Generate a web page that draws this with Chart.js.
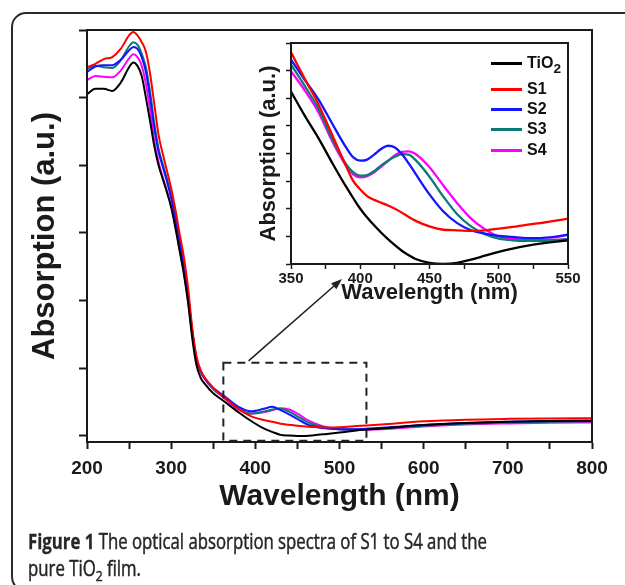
<!DOCTYPE html>
<html>
<head>
<meta charset="utf-8">
<script src="https://cdn.jsdelivr.net/npm/chart.js@4.4.1/dist/chart.umd.min.js"></script>
<style>
  html, body { margin: 0; padding: 0; background: #fff; }
  body { width: 625px; height: 585px; position: relative; overflow: hidden; }
  canvas { position: absolute; left: 0; top: 0; }
  .frame { position: absolute; left: 11px; top: 12px; width: 720px; height: 576px;
           border: 2px solid #2a2a2a; border-radius: 15px; }
  .legend { position: absolute; font: bold 16px "Liberation Sans", Arial, sans-serif; color: #111; }
  .legend .ln { position: absolute; left: 491px; width: 31px; height: 3px; }
  .legend .tx { position: absolute; left: 527px; line-height: 18px; white-space: nowrap; }
  .legend sub { font-size: 0.85em; vertical-align: -0.35em; line-height: 0; }
  .cap { position: absolute; left: 28px; font: 400 21px "Open Sans", sans-serif; color: #262626;
         -webkit-text-stroke: 0.5px #262626;
         line-height: 21px; white-space: nowrap; transform-origin: 0 50%; }
  .cap b { font-weight: 700; -webkit-text-stroke: 0.3px #262626; }
  .cap sub { font-size: 0.72em; vertical-align: -0.3em; line-height: 0; }
</style>
</head>
<body>
<div class="frame"></div>
<canvas id="mainChart" width="625" height="585"></canvas>
<canvas id="insetChart" width="625" height="585"></canvas>
<div class="legend" id="legend"></div>
<div class="cap" id="cap1" style="top:531px"><b>Figure 1</b> The optical absorption spectra of S1 to S4 and the</div>
<div class="cap" id="cap2" style="top:558px">pure TiO<sub>2</sub> film.</div>

<script>
// ---- main spectrum (200-800 nm) ----
const mainWavelengths = [200, 210, 220, 230, 240, 250, 255, 260, 265, 270,
  275, 280, 285, 290, 295, 300, 305, 310, 315, 320,
  325, 330, 335, 340, 350, 362, 380, 395, 410, 420,
  430, 440, 450, 460, 470, 485, 500, 520, 550, 600,
  650, 700, 750, 800];
const mainTiO2 = [5.05, 5.13, 5.13, 5.10, 5.22, 5.45, 5.52, 5.47, 5.32, 5.00,
  4.65, 4.28, 4.00, 3.80, 3.60, 3.38, 3.08, 2.74, 2.40, 1.98,
  1.45, 1.05, 0.86, 0.77, 0.63, 0.52, 0.35, 0.22, 0.11, 0.06,
  0.015, 0.005, 0.0, 0.0, 0.01, 0.03, 0.05, 0.08, 0.11, 0.16,
  0.19, 0.21, 0.22, 0.225];
const mainS1 = [5.45, 5.50, 5.57, 5.60, 5.72, 5.92, 5.97, 5.92, 5.82, 5.68,
  5.35, 4.90, 4.45, 4.17, 3.92, 3.66, 3.35, 2.99, 2.65, 2.20,
  1.60, 1.18, 0.97, 0.86, 0.71, 0.58, 0.40, 0.29, 0.235, 0.21,
  0.18, 0.165, 0.15, 0.14, 0.13, 0.125, 0.128, 0.145, 0.17, 0.215,
  0.24, 0.252, 0.258, 0.26];
const mainS2 = [5.38, 5.46, 5.48, 5.48, 5.56, 5.70, 5.75, 5.72, 5.60, 5.38,
  5.00, 4.55, 4.20, 3.98, 3.76, 3.52, 3.22, 2.87, 2.52, 2.08,
  1.55, 1.15, 0.96, 0.85, 0.71, 0.60, 0.43, 0.365, 0.40, 0.43,
  0.38, 0.32, 0.25, 0.18, 0.14, 0.11, 0.10, 0.10, 0.12, 0.16,
  0.19, 0.21, 0.22, 0.225];
const mainS3 = [5.42, 5.47, 5.45, 5.44, 5.55, 5.76, 5.82, 5.78, 5.65, 5.45,
  5.08, 4.62, 4.25, 4.02, 3.80, 3.55, 3.25, 2.90, 2.55, 2.10,
  1.55, 1.15, 0.96, 0.85, 0.70, 0.58, 0.40, 0.33, 0.36, 0.39,
  0.40, 0.36, 0.29, 0.22, 0.165, 0.12, 0.10, 0.095, 0.11, 0.15,
  0.18, 0.20, 0.21, 0.215];
const mainS4 = [5.26, 5.32, 5.31, 5.30, 5.40, 5.58, 5.64, 5.60, 5.47, 5.20,
  4.82, 4.35, 4.05, 3.82, 3.62, 3.40, 3.10, 2.76, 2.42, 2.00,
  1.50, 1.12, 0.94, 0.84, 0.69, 0.57, 0.39, 0.33, 0.35, 0.38,
  0.41, 0.39, 0.33, 0.25, 0.19, 0.13, 0.10, 0.09, 0.10, 0.14,
  0.17, 0.185, 0.195, 0.20];
const mainXTicks = [200, 250, 300, 350, 400, 450, 500, 550, 600, 650, 700, 750, 800];
const mainYTicks = [0, 1, 2, 3, 4, 5, 6];

// ---- inset (350-550 nm) ----
const insetWavelengths = [350, 360, 370, 380, 390, 395, 400, 405, 410, 415,
  420, 425, 430, 435, 440, 450, 460, 470, 480, 490,
  500, 510, 520, 530, 540, 550];
const insetTiO2 = [3.12, 2.68, 2.27, 1.82, 1.39, 1.19, 1.00, 0.84, 0.70, 0.57,
  0.45, 0.34, 0.24, 0.16, 0.09, 0.02, 0.0, 0.02, 0.08, 0.15,
  0.22, 0.28, 0.33, 0.37, 0.40, 0.43];
const insetS1 = [3.83, 3.35, 2.88, 2.32, 1.76, 1.50, 1.35, 1.23, 1.16, 1.11,
  1.06, 1.00, 0.93, 0.85, 0.78, 0.68, 0.62, 0.61, 0.60, 0.61,
  0.64, 0.67, 0.71, 0.74, 0.78, 0.82];
const insetS2 = [3.70, 3.33, 2.97, 2.53, 2.10, 1.93, 1.87, 1.89, 1.98, 2.08,
  2.14, 2.11, 1.99, 1.82, 1.63, 1.26, 0.95, 0.74, 0.61, 0.55,
  0.51, 0.49, 0.47, 0.47, 0.49, 0.53];
const insetS3 = [3.61, 3.22, 2.80, 2.25, 1.80, 1.66, 1.60, 1.61, 1.68, 1.78,
  1.87, 1.94, 1.99, 1.98, 1.88, 1.58, 1.22, 0.90, 0.68, 0.54,
  0.46, 0.43, 0.42, 0.42, 0.43, 0.45];
const insetS4 = [3.49, 3.14, 2.74, 2.21, 1.77, 1.62, 1.57, 1.59, 1.66, 1.76,
  1.86, 1.97, 2.03, 2.04, 1.99, 1.75, 1.42, 1.10, 0.82, 0.63,
  0.50, 0.46, 0.44, 0.44, 0.44, 0.45];
const insetXTicks = [350, 375, 400, 425, 450, 475, 500, 525, 550];
const insetYTicks = [0, 0.5, 1, 1.5, 2, 2.5, 3, 3.5, 4];

const seriesNames = ["TiO2", "S1", "S2", "S3", "S4"];
const seriesColors = ["#000000", "#ff0000", "#1414ff", "#0b7a76", "#ff00ff"];

const FONT = '"Liberation Sans", Arial, sans-serif';
const INK = "#1a1a1a";

const toPoints = (xs, ys) => xs.map((x, i) => ({ x: x, y: ys[i] }));

const makeDatasets = (xs, lists, width) =>
  lists.map((ys, i) => ({
    label: seriesNames[i],
    data: toPoints(xs, ys),
    borderColor: seriesColors[i],
    borderWidth: width,
    pointRadius: 0,
    fill: false,
    cubicInterpolationMode: "monotone",
  }));

// box around the plotting area
const frameBox = {
  id: "frameBox",
  afterDraw(chart) {
    const { ctx, chartArea: a } = chart;
    ctx.save();
    ctx.strokeStyle = INK;
    ctx.lineWidth = 2;
    ctx.strokeRect(a.left, a.top, a.right - a.left, a.bottom - a.top);
    ctx.restore();
  },
};

// dashed zoom region + arrow pointing at the inset
const zoomMark = {
  id: "zoomMark",
  afterDatasetsDraw(chart) {
    const { ctx, scales } = chart;
    const x1 = scales.x.getPixelForValue(362);
    const x2 = scales.x.getPixelForValue(532);
    const y1 = scales.y.getPixelForValue(1.08);
    const y2 = scales.y.getPixelForValue(-0.07);
    ctx.save();
    ctx.strokeStyle = "#222";
    ctx.lineWidth = 2;
    ctx.setLineDash([8, 6]);
    ctx.strokeRect(x1, y1, x2 - x1, y2 - y1);
    ctx.setLineDash([]);
    // arrow
    const sx = scales.x.getPixelForValue(392), sy = y1 - 2;
    const ex = 342, ey = 279;
    const ang = Math.atan2(ey - sy, ex - sx);
    ctx.lineWidth = 1.6;
    ctx.beginPath();
    ctx.moveTo(sx, sy);
    ctx.lineTo(ex - 8 * Math.cos(ang), ey - 8 * Math.sin(ang));
    ctx.stroke();
    ctx.fillStyle = "#222";
    ctx.beginPath();
    ctx.moveTo(ex, ey);
    ctx.lineTo(ex - 11 * Math.cos(ang) + 4 * Math.sin(ang), ey - 11 * Math.sin(ang) - 4 * Math.cos(ang));
    ctx.lineTo(ex - 11 * Math.cos(ang) - 4 * Math.sin(ang), ey - 11 * Math.sin(ang) + 4 * Math.cos(ang));
    ctx.closePath();
    ctx.fill();
    ctx.restore();
  },
};

new Chart(document.getElementById("mainChart"), {
  type: "line",
  data: {
    datasets: makeDatasets(mainWavelengths, [mainTiO2, mainS1, mainS2, mainS3, mainS4], 2),
  },
  options: {
    responsive: false,
    animation: false,
    devicePixelRatio: 1,
    layout: { padding: { left: 27, top: 30, right: 33, bottom: 70 } },
    plugins: { legend: { display: false }, tooltip: { enabled: false } },
    scales: {
      x: {
        type: "linear",
        min: 200,
        max: 800,
        afterBuildTicks: (s) => { s.ticks = mainXTicks.map((v) => ({ value: v })); },
        afterFit: (s) => { s.height = 73; },
        ticks: {
          callback: (v) => (v % 100 === 0 ? v : ""),
          font: { family: FONT, size: 19, weight: "bold" },
          color: INK,
          padding: 8,
          maxRotation: 0,
          autoSkip: false,
        },
        grid: { drawOnChartArea: false, tickLength: 7, tickWidth: 2, tickColor: INK },
        border: { color: INK, width: 2 },
        title: {
          display: true,
          text: "Wavelength (nm)",
          font: { family: FONT, size: 30, weight: "bold" },
          color: INK,
          padding: { top: 0, bottom: 0 },
        },
      },
      y: {
        min: -0.09,
        max: 6,
        afterBuildTicks: (s) => { s.ticks = mainYTicks.map((v) => ({ value: v })); },
        afterFit: (s) => { s.width = 60; },
        ticks: { display: false },
        grid: { drawOnChartArea: false, tickLength: 8, tickWidth: 2, tickColor: INK },
        border: { color: INK, width: 2 },
        title: {
          display: true,
          text: "Absorption (a.u.)",
          font: { family: FONT, size: 31, weight: "bold" },
          color: INK,
          padding: { top: 0, bottom: 0 },
        },
      },
    },
  },
  plugins: [frameBox, zoomMark],
});

new Chart(document.getElementById("insetChart"), {
  type: "line",
  data: {
    datasets: makeDatasets(insetWavelengths, [insetTiO2, insetS1, insetS2, insetS3, insetS4], 2.3),
  },
  options: {
    responsive: false,
    animation: false,
    devicePixelRatio: 1,
    layout: { padding: { left: 251, top: 43, right: 57, bottom: 277 } },
    plugins: { legend: { display: false }, tooltip: { enabled: false } },
    scales: {
      x: {
        type: "linear",
        min: 350,
        max: 550,
        afterBuildTicks: (s) => { s.ticks = insetXTicks.map((v) => ({ value: v })); },
        afterFit: (s) => { s.height = 44; },
        ticks: {
          callback: (v) => (v % 50 === 0 ? v : ""),
          font: { family: FONT, size: 15, weight: "bold" },
          color: INK,
          padding: 1,
          maxRotation: 0,
          autoSkip: false,
        },
        grid: { drawOnChartArea: false, tickLength: 5, tickWidth: 1.5, tickColor: INK },
        border: { color: INK, width: 2 },
        title: {
          display: true,
          text: "Wavelength (nm)",
          font: { family: FONT, size: 22, weight: "bold" },
          color: INK,
          padding: { top: 0, bottom: 1.8 },
        },
      },
      y: {
        min: 0,
        max: 4,
        afterBuildTicks: (s) => { s.ticks = insetYTicks.map((v) => ({ value: v })); },
        afterFit: (s) => { s.width = 40; },
        ticks: { display: false },
        grid: { drawOnChartArea: false, tickLength: 5, tickWidth: 1.5, tickColor: INK },
        border: { color: INK, width: 2 },
        title: {
          display: true,
          text: "Absorption (a.u.)",
          font: { family: FONT, size: 22, weight: "bold" },
          color: INK,
          padding: { top: 4.8, bottom: 0 },
        },
      },
    },
  },
  plugins: [frameBox],
});

// inset legend
const legendRows = [63, 89, 109, 129, 150];
const legend = document.getElementById("legend");
seriesNames.forEach((name, i) => {
  const ln = document.createElement("div");
  ln.className = "ln";
  ln.style.top = legendRows[i] - 1.5 + "px";
  ln.style.background = seriesColors[i];
  const tx = document.createElement("div");
  tx.className = "tx";
  tx.style.top = legendRows[i] - 9 + "px";
  tx.innerHTML = name === "TiO2" ? "TiO<sub>2</sub>" : name;
  legend.appendChild(ln);
  legend.appendChild(tx);
});

// caption: squeeze to the width of the journal's condensed face
const cap1 = document.getElementById("cap1");
const cap2 = document.getElementById("cap2");
const k = 459 / cap1.getBoundingClientRect().width;
cap1.style.transform = "scaleX(" + k + ")";
cap2.style.transform = "scaleX(" + k + ")";
</script>
</body>
</html>
